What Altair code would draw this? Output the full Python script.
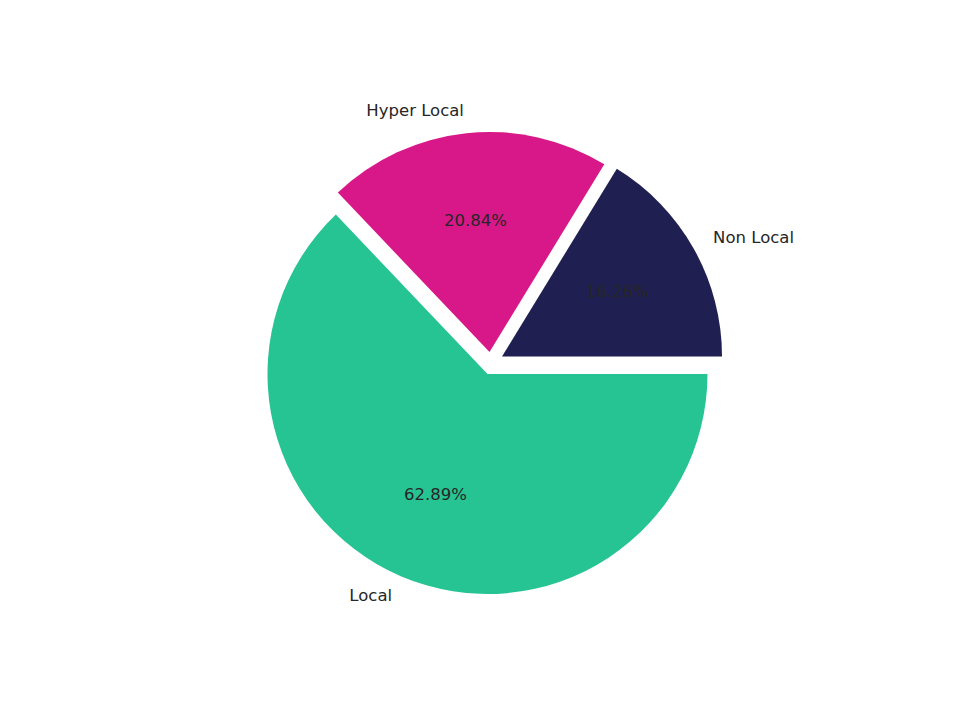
import altair as alt
import pandas as pd

# ---- data ----
categories = ["Non Local", "Hyper Local", "Local"]
shares = [16.26, 20.84, 62.89]
order = [0, 1, 2]

# ---- styles / layout ----
colors = ["#1f1f52", "#d81889", "#26c493"]
CX, CY, R = 479.5, 366.0, 220
offsets = {"Non Local": (14.5, -17.5), "Hyper Local": (2.0, -22.0), "Local": (0.0, 0.0)}
name_align = {"Non Local": "left", "Hyper Local": "right", "Local": "right"}
TEXT_COLOR = "#262626"
FONT = "DejaVu Sans"
FS = 16.5

df = pd.DataFrame({"category": categories, "share": shares, "order": order})

base = (
    alt.Chart(df)
    .transform_joinaggregate(total="sum(share)")
    .transform_window(cum="sum(share)", sort=[alt.SortField("order")], frame=[None, 0])
    .transform_calculate(
        a_start="PI/2 - datum.cum/datum.total*2*PI",
        a_end="PI/2 - (datum.cum - datum.share)/datum.total*2*PI",
        a_mid="PI/2 - (datum.cum - datum.share/2)/datum.total*2*PI",
        pct="format(datum.share, '.2f') + '%'",
    )
)

color_scale = alt.Scale(domain=categories, range=colors)
layers = []
for cat in categories:
    dx, dy = offsets[cat]
    sub = base.transform_filter(alt.datum.category == cat)
    xv = alt.value(CX + dx)
    yv = alt.value(CY + dy)
    arc = sub.mark_arc(radius=R).encode(
        theta=alt.Theta("a_start:Q", scale=None),
        theta2="a_end:Q",
        color=alt.Color("category:N", scale=color_scale, legend=None),
        x=xv,
        y=yv,
    )
    pct = sub.mark_text(
        radius=0.6 * R, fontSize=FS, font=FONT, color=TEXT_COLOR,
        align="center", baseline="middle",
    ).encode(theta=alt.Theta("a_mid:Q", scale=None), text="pct:N", x=xv, y=yv)
    name = sub.mark_text(
        radius=1.1 * R, fontSize=FS, font=FONT, color=TEXT_COLOR,
        align=name_align[cat], baseline="middle",
    ).encode(theta=alt.Theta("a_mid:Q", scale=None), text="category:N", x=xv, y=yv)
    layers += [arc, pct, name]

chart = (
    alt.layer(*layers)
    .properties(width=944, height=704, autosize="none", padding=0)
    .configure_view(stroke=None)
)

chart.save("out.html", embed_options={"renderer": "svg", "actions": False})
